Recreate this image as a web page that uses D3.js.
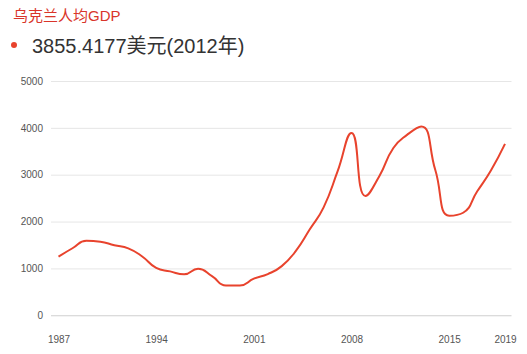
<!DOCTYPE html>
<html>
<head>
<meta charset="utf-8">
<script src="https://cdn.jsdelivr.net/npm/d3@7"></script>
<style>
  body { margin: 0; background: #fff; }
  svg { display: block; font-family: "Liberation Sans", Arial, "Noto Sans CJK SC", sans-serif; }
</style>
</head>
<body>
<div id="chart"></div>
<script>
// data
const years = [1987, 1988, 1989, 1990, 1991, 1992, 1993, 1994, 1995, 1996, 1997,
  1998, 1999, 2000, 2001, 2002, 2003, 2004, 2005, 2006, 2007, 2008, 2009, 2010,
  2011, 2012, 2013, 2014, 2015, 2016, 2017, 2018, 2019];
const gdp = [1250, 1430, 1590, 1570, 1495, 1428, 1255, 1010, 936, 873, 993,
  835, 636, 636, 781, 879, 1049, 1367, 1829, 2303, 3069, 3891, 2545, 2974,
  3570, 3855.4177, 4030, 3105, 2125, 2188, 2640, 3097, 3659];
const xTicks = [1987, 1994, 2001, 2008, 2015, 2019];
const yTicks = [0, 1000, 2000, 3000, 4000, 5000];
const title = '乌克兰人均GDP';
const legendText = '3855.4177美元(2012年)';

const w = 527, h = 354;
const red = '#e8432d';

const dataset = years.map((y, i) => [y, gdp[i]]);

const clamp = (v, a, b) => Math.max(Math.min(a, b), Math.min(v, Math.max(a, b)));

// smooth curve, control points kept inside each segment's box (no overshoot)
const smoothCurve = (context) => {
  let pts = [];
  return {
    areaStart() {}, areaEnd() {},
    lineStart() { pts = []; },
    point(x, y) { pts.push([x, y]); },
    lineEnd() {
      const n = pts.length, s = 0.5;
      if (!n) return;
      const cps = pts.map((p, i) => {
        if (i === 0 || i === n - 1) return [p, p];
        const prev = pts[i - 1], next = pts[i + 1];
        const d0 = Math.hypot(p[0] - prev[0], p[1] - prev[1]);
        const d1 = Math.hypot(next[0] - p[0], next[1] - p[1]);
        const r = d1 / (d0 + d1);
        let ox = clamp(p[0] + (next[0] - prev[0]) * s * r, p[0], next[0]);
        let oy = clamp(p[1] + (next[1] - prev[1]) * s * r, p[1], next[1]);
        let ix = clamp(p[0] - (ox - p[0]) * d0 / d1, prev[0], p[0]);
        let iy = clamp(p[1] - (oy - p[1]) * d0 / d1, prev[1], p[1]);
        ox = p[0] + (p[0] - ix) * d1 / d0;
        oy = p[1] + (p[1] - iy) * d1 / d0;
        return [[ix, iy], [ox, oy]];
      });
      context.moveTo(pts[0][0], pts[0][1]);
      for (let i = 1; i < n; i++) {
        context.bezierCurveTo(cps[i - 1][1][0], cps[i - 1][1][1],
          cps[i][0][0], cps[i][0][1], pts[i][0], pts[i][1]);
      }
    }
  };
};

const svg = d3.select('#chart')
  .append('svg')
  .attr('width', w)
  .attr('height', h);

const xScale = d3.scaleLinear()
  .domain([1987, 2019])
  .range([58.5, 505]);
const yScale = d3.scaleLinear()
  .domain([0, 5000])
  .range([315.25, 81]);

// title + legend
svg.append('text')
  .attr('x', 13)
  .attr('y', 21)
  .attr('fill', '#d9352a')
  .style('font-size', '15px')
  .text(title);

svg.append('circle')
  .attr('cx', 14)
  .attr('cy', 45)
  .attr('r', 3)
  .attr('fill', red);

svg.append('text')
  .attr('x', 32)
  .attr('y', 53)
  .attr('fill', '#333')
  .style('font-size', '20px')
  .text(legendText);

// grid + y labels
const yAxis = d3.axisLeft(yScale)
  .tickValues(yTicks)
  .tickFormat(d3.format('d'))
  .tickSize(-(511.5 - 51))
  .tickPadding(8);

svg.append('g')
  .attr('id', 'y-axis')
  .attr('transform', 'translate(51, 0)')
  .call(yAxis)
  .call(g => g.select('.domain').remove())
  .call(g => g.selectAll('.tick line').attr('stroke', d => d === 0 ? '#cfcfcf' : '#e6e6e6'))
  .call(g => g.selectAll('.tick text').attr('fill', '#555').style('font-size', '10px')
    .attr('font-family', null));

// x labels
const xAxis = d3.axisBottom(xScale)
  .tickValues(xTicks)
  .tickFormat(d3.format('d'))
  .tickSize(0)
  .tickPadding(21);

svg.append('g')
  .attr('id', 'x-axis')
  .attr('transform', 'translate(0, 315.25)')
  .call(xAxis)
  .call(g => g.select('.domain').remove())
  .call(g => g.selectAll('.tick text').attr('fill', '#555').style('font-size', '10px')
    .attr('font-family', null));

// line
const line = d3.line()
  .x(d => xScale(d[0]))
  .y(d => yScale(d[1]))
  .curve(smoothCurve);

svg.append('path')
  .datum(dataset)
  .attr('d', line)
  .attr('fill', 'none')
  .attr('stroke', red)
  .attr('stroke-width', 2)
  .attr('stroke-linejoin', 'round');
</script>
</body>
</html>
